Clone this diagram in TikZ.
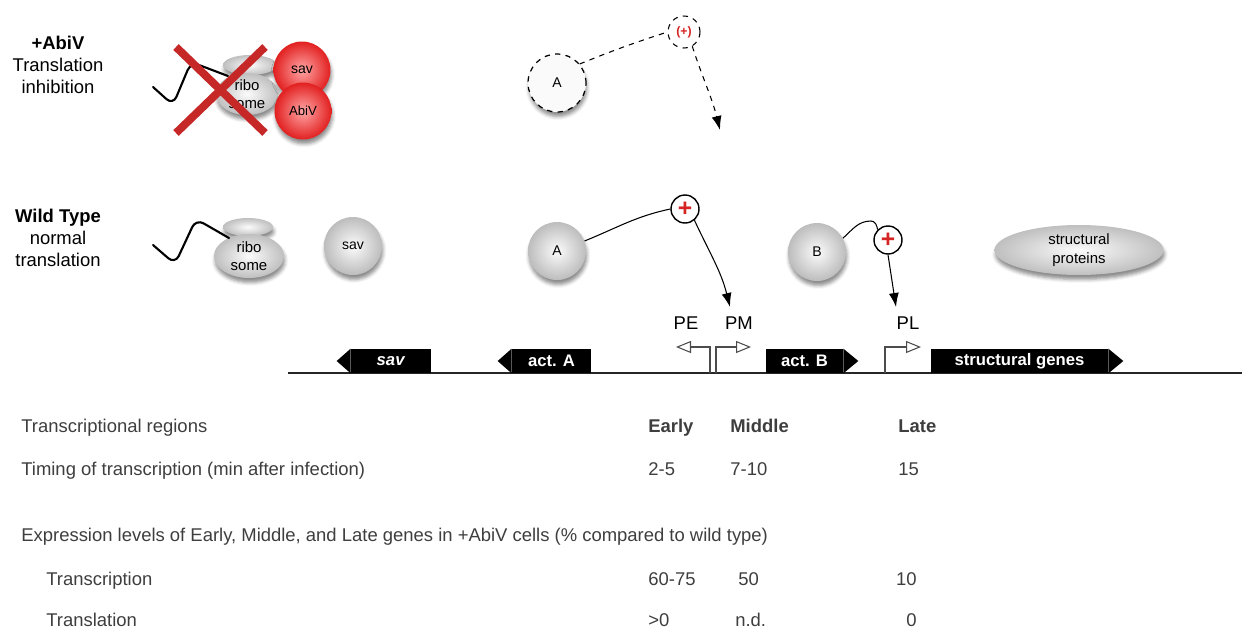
\documentclass[tikz,border=0pt]{standalone}
\usepackage{fontspec}
\setmainfont{Liberation Sans}
\usetikzlibrary{positioning,arrows.meta,shapes.geometric,shadows.blur}
\definecolor{xred}{RGB}{198,40,40}
\definecolor{plusred}{RGB}{214,36,36}
\definecolor{redrim}{RGB}{226,32,32}
\definecolor{tabgray}{RGB}{62,62,62}
\tikzset{
  softshadow/.style={
    blur shadow={shadow xshift=0.2mm, shadow yshift=-0.9mm, shadow blur radius=0.7mm, shadow opacity=45}
  },
  rowlabel/.style={align=center, font=\fontsize{10.5}{12.3}\selectfont},
  prot/.style={
    circle, minimum size=11.6mm, inner sep=0mm, shading=radial, inner color=gray!3,
    outer color=gray!52, softshadow, font=\fontsize{8}{9}\selectfont
  },
  redprot/.style={prot, minimum size=11.4mm, inner color=red!35, outer color=redrim},
  protoff/.style={
    circle, draw, dashed, line width=0.7pt, fill=gray!4, minimum size=11.6mm, inner sep=0mm,
    softshadow, font=\fontsize{8}{9}\selectfont
  },
  ribo/.style={
    ellipse, inner sep=0mm, shading=radial, inner color=gray!3, outer color=gray!50,
    softshadow, align=center, font=\fontsize{8.5}{10.5}\selectfont
  },
  mrna/.style={line width=1.2pt, line cap=round, rounded corners=5pt},
  xmark/.style={line width=4.5pt, draw=xred},
  plus/.style={
    circle, draw, line width=0.8pt, fill=white, minimum size=5.6mm, inner sep=0mm,
    text=plusred, font=\bfseries\fontsize{14}{14}\selectfont
  },
  plusoff/.style={plus, dashed, line width=0.6pt, minimum size=6.4mm, font=\bfseries\fontsize{7}{8}\selectfont},
  activ/.style={line width=0.6pt, -{Latex[length=2.8mm,width=2mm]}},
  geneblk/.style={
    rectangle, fill=black, text=white, minimum height=4.8mm, inner sep=0mm,
    font=\bfseries\fontsize{9.5}{10}\selectfont
  },
  promoter/.style={line width=0.6pt, draw=black!70, -{Triangle[open, length=3mm, width=2.4mm, fill=white]}},
  plbl/.style={font=\fontsize{10.5}{12}\selectfont},
  tabtxt/.style={anchor=base west, inner sep=0mm, text=tabgray, font=\fontsize{10.5}{12}\selectfont},
  tabhead/.style={tabtxt, font=\bfseries\fontsize{10.5}{12}\selectfont}
}

\begin{document}
\begin{tikzpicture}[x=0.02cm, y=-0.02cm]
 \useasboundingbox (0,0) rectangle (1242,633);

 % row titles
 \node[rowlabel] (abivlbl) at (58,65) {\textbf{+AbiV}\\Translation\\inhibition};
 \node[rowlabel] (wtlbl) at (58,238) {\textbf{Wild Type}\\normal\\translation};

 % +AbiV row
 \node[ribo, minimum width=10.8mm, minimum height=4mm] (iribotop) at (250,65) {};
 \node[ribo, minimum width=12.4mm, minimum height=8.4mm] (iribo) at (247,94) {ribo\\some};
 \draw[mrna] (153,87) -- (173,105) -- (191,62) -- (228,76);
 \node[redprot] (isav) at (302,70) {sav};
 \node[redprot, font=\fontsize{7.5}{9}\selectfont] (iabiv) at (303,111) {AbiV};
 \draw[xmark] (176,47) -- (265,133);
 \draw[xmark] (265,47) -- (176,133);

 \node[protoff] (iA) at (557,83) {A};
 \node[plusoff] (iplus) at (684,32) {(+)};
 \coordinate (iend) at (720,130);
 \draw[dashed, line width=0.6pt] (iA.40) to[out=22, in=198] (iplus.west);
 \draw[activ, dashed] (iplus.-60) to[out=-72, in=104] (iend);

 % wild type row
 \node[ribo, minimum width=10mm, minimum height=3.6mm] (wribotop) at (248,227) {};
 \node[ribo, minimum width=14mm, minimum height=8.8mm] (wribo) at (249,256) {ribo\\some};
 \draw[mrna] (153,245) -- (175,264) -- (196,219) -- (229,238);
 \node[prot] (wsav) at (353,246) {sav};

 \node[prot] (wA) at (557,251) {A};
 \node[plus] (wplusA) at (685,209) {+};
 \coordinate (pmend) at (730,307);
 \draw[line width=0.6pt] (wA.20) to[out=22, in=192] (wplusA.west);
 \draw[activ] (wplusA.-50) to[out=-65, in=104] (pmend);

 \node[prot] (wB) at (817,252) {B};
 \node[plus] (wplusB) at (888,240) {+};
 \coordinate (plend) at (896,307);
 \draw[line width=0.6pt] (wB.28) to[out=42, in=180] (871,221) to[out=0, in=100] (wplusB.135);
 \draw[activ] (wplusB.south) -- (plend);

 \node[ribo, minimum width=33.8mm, minimum height=10mm] (strucprot) at (1079,250) {structural\\proteins};

 % genome map
 \coordinate (dnaL) at (288,373);
 \coordinate (dnaR) at (1242,373);
 \draw[line width=0.8pt, black!85] (dnaL) -- (dnaR);

 \node[geneblk, minimum width=16mm] (gsav) at (391,361) {\textit{sav}};
 \fill (gsav.north west) -- ([xshift=-2.8mm]gsav.west) -- (gsav.south west) -- cycle;
 \node[geneblk, minimum width=15.8mm] (gactA) at (551.5,361) {act. A};
 \fill (gactA.north west) -- ([xshift=-2.8mm]gactA.west) -- (gactA.south west) -- cycle;
 \node[geneblk, minimum width=15.4mm] (gactB) at (804.5,361) {act. B};
 \fill (gactB.north east) -- ([xshift=3mm]gactB.east) -- (gactB.south east) -- cycle;
 \node[geneblk, minimum width=35.4mm] (gstruc) at (1019.5,361) {structural genes};
 \fill (gstruc.north east) -- ([xshift=3mm]gstruc.east) -- (gstruc.south east) -- cycle;

 \coordinate (PEfoot) at (710,373);
 \coordinate (PEtip) at (676,347);
 \coordinate (PMfoot) at (716,373);
 \coordinate (PMtip) at (751,347);
 \coordinate (PLfoot) at (885,373);
 \coordinate (PLtip) at (921,347);
 \draw[promoter] (PEfoot) |- (PEtip);
 \draw[promoter] (PMfoot) |- (PMtip);
 \draw[promoter] (PLfoot) |- (PLtip);
 \node[plbl] (PE) at (686,323) {PE};
 \node[plbl] (PM) at (739,323) {PM};
 \node[plbl] (PL) at (908,323) {PL};

 % table
 \node[tabtxt] (regions) at (21,432) {Transcriptional regions};
 \node[tabhead] (early) at (648,432) {Early};
 \node[tabhead] (middle) at (730,432) {Middle};
 \node[tabhead] (late) at (898,432) {Late};
 \node[tabtxt] (timing) at (21,475) {Timing of transcription (min after infection)};
 \node[tabtxt] (tearly) at (648,475) {2-5};
 \node[tabtxt] (tmiddle) at (730,475) {7-10};
 \node[tabtxt] (tlate) at (898,475) {15};
 \node[tabtxt] (levels) at (21,541) {Expression levels of Early, Middle, and Late genes in +AbiV cells (\% compared to wild type)};
 \node[tabtxt] (transc) at (46,585) {Transcription};
 \node[tabtxt] (cearly) at (648,585) {60-75};
 \node[tabtxt] (cmiddle) at (738,585) {50};
 \node[tabtxt, anchor=base east] (clate) at (917,585) {10};
 \node[tabtxt] (transl) at (46,626) {Translation};
 \node[tabtxt] (learly) at (648,626) {>0};
 \node[tabtxt] (lmiddle) at (735,626) {n.d.};
 \node[tabtxt, anchor=base east] (llate) at (917,626) {0};
\end{tikzpicture}
\end{document}
